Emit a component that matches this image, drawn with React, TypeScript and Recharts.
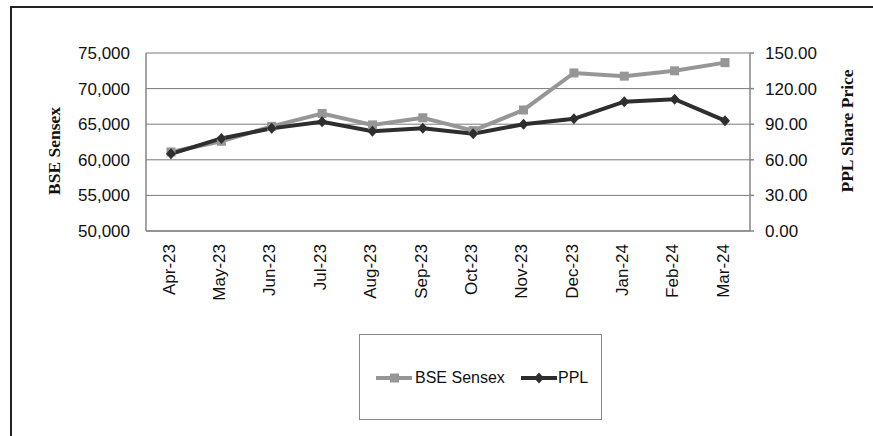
import React from "react";
import { LineChart, Line, XAxis, YAxis, CartesianGrid } from "recharts";

const months = ["Apr-23", "May-23", "Jun-23", "Jul-23", "Aug-23", "Sep-23", "Oct-23", "Nov-23", "Dec-23", "Jan-24", "Feb-24", "Mar-24"];
const sensex = [61100, 62600, 64700, 66500, 64900, 65900, 64100, 67000, 72200, 71750, 72500, 73650];
const ppl = [65, 78, 86.5, 92, 84, 86.5, 82, 90, 94.5, 109, 111, 93];
const leftTicks = [50000, 55000, 60000, 65000, 70000, 75000];
const rightTicks = [0, 30, 60, 90, 120, 150];

const SENSEX_COLOR = "#969696";
const PPL_COLOR = "#2e2e2e";
const AXIS_COLOR = "#868686";
const FONT = "'Liberation Sans', Arial, sans-serif";
const SERIF = "'Liberation Serif', 'Times New Roman', serif";

const data = months.map((m, i) => ({ month: m, sensex: sensex[i], ppl: ppl[i] }));

// square marker for the Sensex line
function SquareDot(props: any) {
  const { cx, cy } = props;
  if (cx == null || cy == null) return null;
  return <rect x={cx - 4.5} y={cy - 4.5} width={9} height={9} fill={SENSEX_COLOR} />;
}

// diamond marker for PPL
function DiamondDot(props: any) {
  const { cx, cy } = props;
  if (cx == null || cy == null) return null;
  return (
    <polygon
      points={`${cx},${cy - 5.5} ${cx + 5},${cy} ${cx},${cy + 5.5} ${cx - 5},${cy}`}
      fill={PPL_COLOR}
    />
  );
}

function MonthTick(props: any) {
  const { x, y, payload } = props;
  return (
    <g transform={`translate(${x},${y})`}>
      <text
        transform="rotate(-90)"
        x={-11}
        y={0}
        dy="0.22em"
        textAnchor="end"
        fill="#111"
        fontSize={17}
        fontFamily={FONT}
      >
        {payload.value}
      </text>
    </g>
  );
}

function LegendBox() {
  return (
    <div
      style={{
        position: "absolute",
        left: 359,
        top: 334,
        width: 243,
        height: 86,
        border: "1px solid #888",
        boxSizing: "border-box",
        fontFamily: FONT,
        fontSize: 16,
        color: "#111",
      }}
    >
      <svg width={40} height={12} style={{ position: "absolute", left: 16, top: 37 }}>
        <line x1={0} y1={6} x2={36} y2={6} stroke={SENSEX_COLOR} strokeWidth={4} />
        <rect x={14} y={1.5} width={9} height={9} fill={SENSEX_COLOR} />
      </svg>
      <span style={{ position: "absolute", left: 55, top: 34, lineHeight: "18px" }}>BSE Sensex</span>
      <svg width={40} height={12} style={{ position: "absolute", left: 161, top: 37 }}>
        <line x1={0} y1={6} x2={36} y2={6} stroke={PPL_COLOR} strokeWidth={4} />
        <polygon points="18,0.5 23,6 18,11.5 13,6" fill={PPL_COLOR} />
      </svg>
      <span style={{ position: "absolute", left: 198, top: 34, lineHeight: "18px" }}>PPL</span>
    </div>
  );
}

export default function App() {
  return (
    <div style={{ position: "absolute", left: 0, top: 0, width: 873, height: 436, background: "#fff", overflow: "hidden" }}>
      <div
        style={{
          position: "absolute",
          left: 10,
          top: 6,
          width: 880,
          height: 450,
          borderTop: "2px solid #222",
          borderLeft: "2px solid #222",
        }}
      />
      <LineChart
        width={873}
        height={436}
        data={data}
        margin={{ top: 53, right: 43, left: 66, bottom: 135 }}
        style={{ position: "absolute", left: 0, top: 0 }}
      >
        <CartesianGrid yAxisId="left" vertical={false} stroke="#7a7a7a" strokeWidth={1} />
        <XAxis
          dataKey="month"
          interval={0}
          height={70}
          padding={{ left: 25, right: 25 }}
          tickLine={false}
          tickSize={0}
          axisLine={{ stroke: AXIS_COLOR, strokeWidth: 1.5 }}
          tick={<MonthTick />}
        />
        <YAxis
          yAxisId="left"
          orientation="left"
          width={80}
          domain={[50000, 75000]}
          ticks={leftTicks}
          tickFormatter={(v: number) => v.toLocaleString("en-US")}
          tickLine={false}
          tickSize={0}
          tickMargin={16}
          axisLine={{ stroke: AXIS_COLOR, strokeWidth: 1.5 }}
          tick={{ fill: "#111", fontSize: 17, fontFamily: FONT }}
          label={{
            value: "BSE Sensex",
            angle: -90,
            position: "center",
            dx: -52,
            dy: 9,
            fill: "#111",
            fontSize: 17.5,
            fontWeight: "bold",
            fontFamily: SERIF,
          }}
        />
        <YAxis
          yAxisId="right"
          orientation="right"
          width={80}
          domain={[0, 150]}
          ticks={rightTicks}
          tickFormatter={(v: number) => v.toFixed(2)}
          tickLine={{ stroke: AXIS_COLOR, strokeWidth: 1.5 }}
          tickSize={4}
          tickMargin={11}
          axisLine={{ stroke: AXIS_COLOR, strokeWidth: 1.5 }}
          tick={{ fill: "#111", fontSize: 17, fontFamily: FONT }}
          label={{
            value: "PPL Share Price",
            angle: -90,
            position: "center",
            dx: 57,
            dy: -11,
            fill: "#111",
            fontSize: 17.5,
            fontWeight: "bold",
            fontFamily: SERIF,
          }}
        />
        <Line
          yAxisId="left"
          type="linear"
          dataKey="sensex"
          stroke={SENSEX_COLOR}
          strokeWidth={4}
          dot={<SquareDot />}
          activeDot={false}
          isAnimationActive={false}
        />
        <Line
          yAxisId="right"
          type="linear"
          dataKey="ppl"
          stroke={PPL_COLOR}
          strokeWidth={4}
          dot={<DiamondDot />}
          activeDot={false}
          isAnimationActive={false}
        />
      </LineChart>
      <LegendBox />
    </div>
  );
}
